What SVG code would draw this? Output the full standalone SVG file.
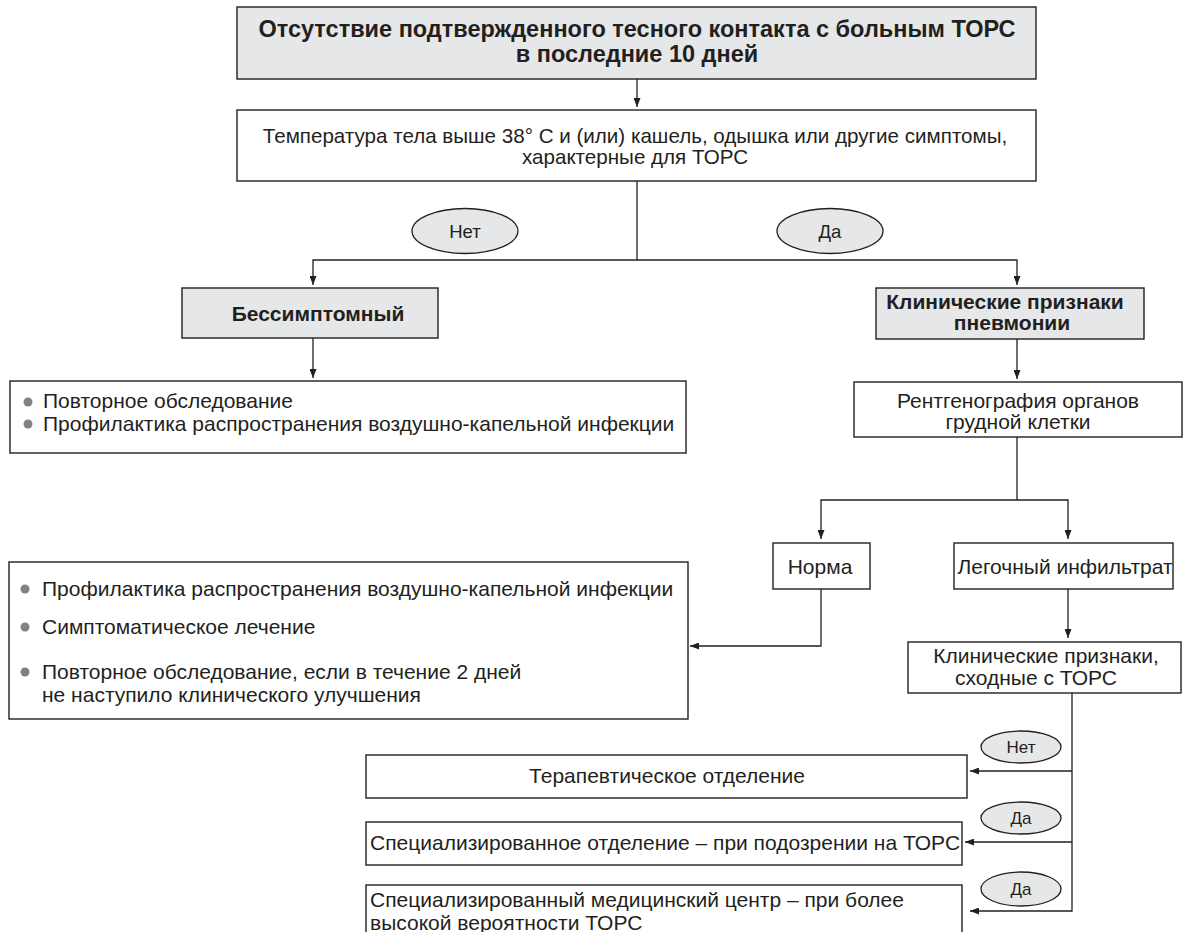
<svg xmlns="http://www.w3.org/2000/svg" width="1202" height="932" viewBox="0 0 1202 932">
<style>
.box{fill:#ffffff;stroke:#231f20;stroke-width:1.4}
.gbox{fill:#e6e7e8;stroke:#231f20;stroke-width:1.4}
.ell{fill:#e6e7e8;stroke:#231f20;stroke-width:1.3}
.t{font-family:"Liberation Sans",Arial,sans-serif;font-size:21px;fill:#231f20}
.b{font-family:"Liberation Sans",Arial,sans-serif;font-size:21px;font-weight:bold;fill:#231f20}
.h{font-family:"Liberation Sans",Arial,sans-serif;font-size:23.5px;font-weight:bold;fill:#231f20}
.e{font-family:"Liberation Sans",Arial,sans-serif;font-size:18.5px;fill:#231f20}
.s{font-family:"Liberation Sans",Arial,sans-serif;font-size:17px;fill:#231f20}
.c{text-anchor:middle}
.dot{fill:#808285}
.ln{fill:none;stroke:#231f20;stroke-width:1.3}
</style>
<defs>
<marker id="ah" markerUnits="userSpaceOnUse" markerWidth="9" markerHeight="7" refX="9" refY="3.5" orient="auto">
<path d="M0,0 L9,3.5 L0,7 z" fill="#231f20"/>
</marker>
</defs>

<g id="connectors">
<path class="ln" d="M637,79 V107" marker-end="url(#ah)"/>
<path class="ln" d="M637,181 V260 H313 V285" marker-end="url(#ah)"/>
<path class="ln" d="M637,260 H1017 V285" marker-end="url(#ah)"/>
<path class="ln" d="M313,338 V378" marker-end="url(#ah)"/>
<path class="ln" d="M1017,339 V379" marker-end="url(#ah)"/>
<path class="ln" d="M1017,437 V500 H821 V539" marker-end="url(#ah)"/>
<path class="ln" d="M1017,500 H1068 V539" marker-end="url(#ah)"/>
<path class="ln" d="M821,589 V646 H690" marker-end="url(#ah)"/>
<path class="ln" d="M1068,589 V638" marker-end="url(#ah)"/>
<path class="ln" d="M1072,693 V911 H970" marker-end="url(#ah)"/>
<path class="ln" d="M1072,771 H970" marker-end="url(#ah)"/>
<path class="ln" d="M1072,842 H965" marker-end="url(#ah)"/>
</g>

<g id="n-top">
<rect class="gbox" x="237" y="7" width="799" height="72"/>
<text class="h c" x="637" y="37">Отсутствие подтвержденного тесного контакта с больным ТОРС</text>
<text class="h c" x="637" y="62">в последние 10 дней</text>
</g>

<g id="n-temp">
<rect class="box" x="237" y="110" width="799" height="71"/>
<text class="t c" x="635" y="143" style="font-size:20.6px">Температура тела выше 38° С и (или) кашель, одышка или другие симптомы,</text>
<text class="t c" x="635" y="164" style="font-size:20.6px">характерные для ТОРС</text>
</g>

<g id="lbl-no1">
<ellipse class="ell" cx="465" cy="231" rx="53" ry="22.5"/>
<text class="e c" x="465" y="238">Нет</text>
</g>
<g id="lbl-yes1">
<ellipse class="ell" cx="830" cy="231" rx="53" ry="22.5"/>
<text class="e c" x="830" y="238">Да</text>
</g>

<g id="n-asym">
<rect class="gbox" x="182" y="288" width="256" height="50"/>
<text class="b c" x="318" y="321">Бессимптомный</text>
</g>

<g id="n-pneu">
<rect class="gbox" x="876" y="288" width="268" height="51"/>
<text class="b c" x="1005" y="309">Клинические признаки</text>
<text class="b c" x="1012" y="330">пневмонии</text>
</g>

<g id="n-repeat">
<rect class="box" x="10" y="381" width="676" height="72"/>
<circle class="dot" cx="28" cy="402" r="4.5"/>
<text class="t" x="43" y="408">Повторное обследование</text>
<circle class="dot" cx="28" cy="424" r="4.5"/>
<text class="t" x="43" y="431">Профилактика распространения воздушно-капельной инфекции</text>
</g>

<g id="n-xray">
<rect class="box" x="854" y="382" width="328" height="55"/>
<text class="t c" x="1018" y="408">Рентгенография органов</text>
<text class="t c" x="1018" y="429">грудной клетки</text>
</g>

<g id="n-norm">
<rect class="box" x="773" y="543" width="97" height="46"/>
<text class="t c" x="820" y="574">Норма</text>
</g>

<g id="n-infil">
<rect class="box" x="954" y="543" width="219" height="46"/>
<text class="t c" x="1065" y="574">Легочный инфильтрат</text>
</g>

<g id="n-treat">
<rect class="box" x="9" y="562" width="679" height="157"/>
<circle class="dot" cx="25" cy="589" r="4.5"/>
<text class="t" x="42" y="596">Профилактика распространения воздушно-капельной инфекции</text>
<circle class="dot" cx="25" cy="627" r="4.5"/>
<text class="t" x="42" y="634">Симптоматическое лечение</text>
<circle class="dot" cx="25" cy="672" r="4.5"/>
<text class="t" x="42" y="679">Повторное обследование, если в течение 2 дней</text>
<text class="t" x="42" y="702">не наступило клинического улучшения</text>
</g>

<g id="n-similar">
<rect class="box" x="908" y="642" width="273" height="51"/>
<text class="t c" x="1046" y="663">Клинические признаки,</text>
<text class="t c" x="1036" y="685">сходные с ТОРС</text>
</g>

<g id="lbl-no2">
<ellipse class="ell" cx="1021" cy="747" rx="40" ry="16"/>
<text class="s c" x="1021" y="753">Нет</text>
</g>
<g id="lbl-yes2">
<ellipse class="ell" cx="1021" cy="818" rx="40" ry="16"/>
<text class="s c" x="1021" y="824">Да</text>
</g>
<g id="lbl-yes3">
<ellipse class="ell" cx="1021" cy="889" rx="40" ry="17"/>
<text class="s c" x="1021" y="895">Да</text>
</g>

<g id="n-therapy">
<rect class="box" x="366" y="755" width="601" height="43"/>
<text class="t c" x="667" y="783">Терапевтическое отделение</text>
</g>

<g id="n-special">
<rect class="box" x="366" y="822" width="596" height="43"/>
<text class="t" x="370" y="850">Специализированное отделение – при подозрении на ТОРС</text>
</g>

<g id="n-center">
<rect class="box" x="366" y="885" width="596" height="60"/>
<text class="t" x="370" y="907">Специализированный медицинский центр – при более</text>
<text class="t" x="370" y="930">высокой вероятности ТОРС</text>
</g>
</svg>
